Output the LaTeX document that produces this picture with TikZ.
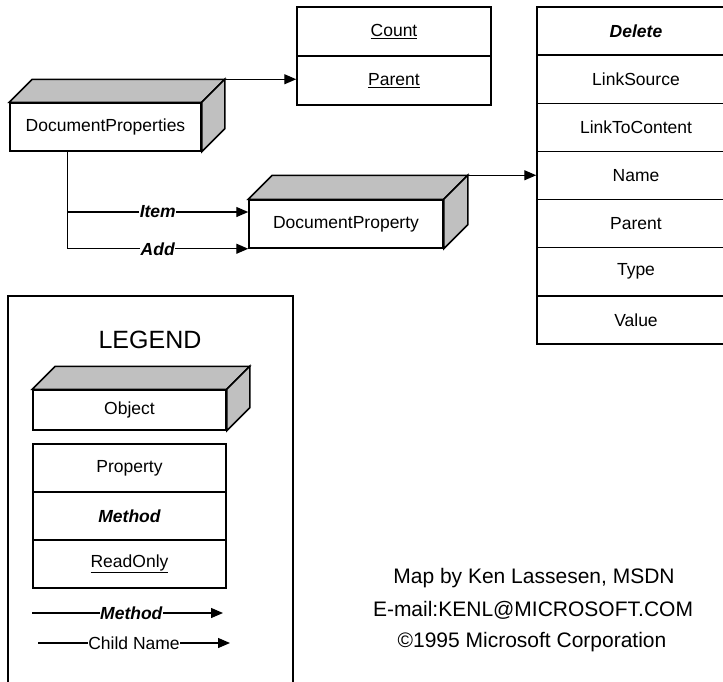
\documentclass[tikz,border=0pt]{standalone}
\usepackage{fontspec}
\setmainfont{Liberation Sans}
\usetikzlibrary{arrows.meta,calc}
\definecolor{facegray}{RGB}{192,192,192}
\newcommand{\boxfaces}[2]{%
  \filldraw[face] (#1.north west) -- ($(#1.north west)+(#2,-#2)$) -- ($(#1.north east)+(#2,-#2)$) -- (#1.north east) -- cycle;
  \filldraw[face] (#1.north east) -- ($(#1.north east)+(#2,-#2)$) -- ($(#1.south east)+(#2,-#2)$) -- (#1.south east) -- cycle;
  \coordinate (#1TR) at ($(#1.north east)+(#2,-#2)$);}
\begin{document}
\begin{tikzpicture}[x=1pt,y=-1pt,
  face/.style={fill=facegray,draw=black,line width=1.5pt,line join=miter},
  objbox/.style={draw,fill=white,line width=1.5pt,inner sep=0pt,font=\fontsize{17.5}{20}\selectfont},
  rowbox/.style={draw,line width=1.5pt,inner sep=0pt,font=\fontsize{17.5}{20}\selectfont},
  arr/.style={line width=1.3pt,-{Triangle[length=12pt,width=10pt]}},
  plainline/.style={line width=1.3pt},
  lbl/.style={fill=white,inner sep=0.5pt,font=\fontsize{17.5}{20}\selectfont},
  bilbl/.style={fill=white,inner sep=0.5pt,font=\fontsize{17.5}{20}\selectfont\bfseries\itshape}]
\useasboundingbox (0,0) rectangle (723,681);
\clip (0,0) rectangle (723,681);

% DocumentProperties object
\node[objbox,minimum width=191pt,minimum height=48pt] (dps) at (105.5,127) {DocumentProperties};
\boxfaces{dps}{23}

% Count / Parent box
\node[rowbox,minimum width=194pt,minimum height=49pt] (count) at (394,31.5) {\underline{Count}};
\node[rowbox,minimum width=194pt,minimum height=49pt] (cparent) at (394,80.5) {\underline{Parent}};

% DocumentProperty object
\node[objbox,minimum width=194pt,minimum height=48pt] (dp) at (346,224) {DocumentProperty};
\boxfaces{dp}{24}

% Right column
\foreach \name/\txt [count=\i from 0] in {del/{\bfseries\itshape Delete},lsrc/LinkSource,ltc/LinkToContent,nm/Name,par/Parent,typ/Type,val/Value}{
  \node[rowbox,minimum width=198pt,minimum height=48.14pt] (\name) at (636,{7+48.14*(\i+0.5)}) {\txt};
}

% Connectors
\draw[arr] (dpsTR) -- (dpsTR -| cparent.west);
\coordinate (branch) at ($(dps.south west)+(58,0)$);
\draw[plainline] (branch) -- (branch |- dp.south);
\draw[arr] (branch |- 0,212) -- node[bilbl]{Item} (dp.west |- 0,212);
\draw[arr] (branch |- dp.south) -- node[bilbl]{Add} (dp.south west);
\draw[arr] (dpTR) -- (dpTR -| nm.west);

% Legend
\draw[line width=1.5pt] (8,690) -- (8,296) -- (293,296) -- (293,690);
\node[font=\fontsize{25}{28}\selectfont] (legend) at (150,340) {LEGEND};
\node[objbox,minimum width=193pt,minimum height=40pt] (obj) at (129.5,410) {Object};
\boxfaces{obj}{23}
\node[rowbox,minimum width=193pt,minimum height=48pt] (lprop) at (129.5,468) {Property};
\node[rowbox,minimum width=193pt,minimum height=48pt,font=\fontsize{17.5}{20}\selectfont\bfseries\itshape] (lmeth) at (129.5,516) {Method};
\node[rowbox,minimum width=193pt,minimum height=48pt] (lro) at (129.5,564) {\underline{ReadOnly}};
\coordinate (ma) at (32,613);
\coordinate (mb) at (223,613);
\draw[arr] (ma) -- node[bilbl,pos=0.52]{Method} (mb);
\coordinate (ca) at (38,643);
\coordinate (cb) at (230,643);
\draw[arr] (ca) -- node[lbl,pos=0.5]{Child Name} (cb);

% Credits
\node[font=\fontsize{21}{24}\selectfont,align=center] (credit) at (534,578) {Map by Ken Lassesen, MSDN};
\node[font=\fontsize{21}{24}\selectfont] (email) at (533,610) {E-mail:KENL@MICROSOFT.COM};
\node[font=\fontsize{21}{24}\selectfont] (copy) at (532,642) {©1995 Microsoft Corporation};
\end{tikzpicture}
\end{document}
